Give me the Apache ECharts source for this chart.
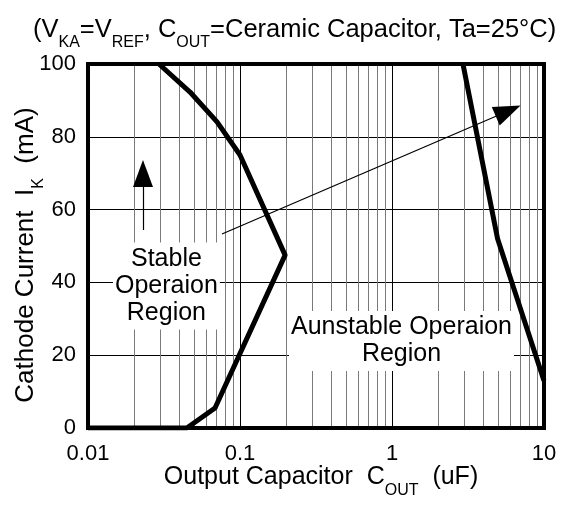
<!DOCTYPE html>
<html>
<head>
<meta charset="utf-8">
<script src="https://cdn.jsdelivr.net/npm/echarts@6/dist/echarts.min.js"></script>
<style>
html,body{margin:0;padding:0;background:#fff;}
#chart{width:563px;height:505px;}
</style>
</head>
<body>
<div id="chart"></div>
<script>
// ---- data ----
const stableBoundaryX = [0.01, 0.0447, 0.0685, 0.198, 0.1, 0.0706, 0.0469, 0.0293];
const stableBoundaryY = [0, 0, 5.5, 47.5, 75, 84.1, 92.3, 100];
const unstableBoundaryX = [2.93, 4.95, 10];
const unstableBoundaryY = [100, 52, 13];
const xTickLabels = ['0.01', '0.1', '1', '10'];
const yTickValues = [0, 20, 40, 60, 80, 100];
const minorGridX = [0.02, 0.03, 0.04, 0.05, 0.06, 0.07, 0.08, 0.09,
                    0.2, 0.3, 0.4, 0.5, 0.6, 0.7, 0.8, 0.9,
                    2, 3, 4, 5, 6, 7, 8, 9];
const regionLabels = ['Stable\nOperaion\nRegion', 'Aunstable Operaion\nRegion'];
const regionLabelX = [0.0328, 1.155];
const regionLabelY = [39.0, 23.9];
// arrows: [startX, startY, endX, endY]
const upArrow = [0.0230, 54.4, 0.0230, 69.9];
const diagArrow = [0.0761, 53.3, 5.81, 87.1];

const FONT = 'Liberation Sans';
const chart = echarts.init(document.getElementById('chart'));

const pair = (xs, ys) => xs.map((x, i) => [x, ys[i]]);

const makeRich = (main, sub) => ({
  m: {fontFamily: FONT, fontSize: main, lineHeight: main, color: '#000', fontWeight: 'normal'},
  s: {fontFamily: FONT, fontSize: sub, lineHeight: sub, color: '#000', fontWeight: 'normal', padding: [26, 0, 0, 0]}
});

const option = {
  animation: false,
  backgroundColor: '#fff',
  title: {
    text: '{m|(V}{s|KA}{m|=V}{s|REF}{m|, C}{s|OUT}{m|=Ceramic Capacitor, Ta=25°C)}',
    left: 28,
    top: 12,
    textStyle: {fontWeight: 'normal', rich: makeRich(25.5, 16)}
  },
  grid: {
    left: 88, right: 19, top: 64, bottom: 77,
    outerBoundsMode: 'none',
    containLabel: false,
    show: true, borderColor: '#000', borderWidth: 4, z: 10
  },
  xAxis: {
    type: 'log',
    logBase: 10,
    min: 0.01,
    max: 10,
    axisLine: {show: false},
    axisTick: {show: false},
    splitLine: {show: true, lineStyle: {color: '#000', width: 1}},
    axisLabel: {
      fontFamily: FONT, fontSize: 22, color: '#000', margin: 15,
      formatter: v => xTickLabels[Math.round(Math.log10(v)) + 2]
    },
    name: '{m|Output Capacitor  C}{s|OUT}{m|  (uF)}',
    nameLocation: 'middle',
    nameMoveOverlap: false,
    nameGap: 37,
    nameTextStyle: {padding: [0, 0, 0, 10], rich: makeRich(25, 16)}
  },
  yAxis: {
    type: 'value',
    min: 0,
    max: 100,
    interval: 20,
    axisLine: {show: false},
    axisTick: {show: false},
    splitLine: {show: true, lineStyle: {color: '#000', width: 1}},
    axisLabel: {
      fontFamily: FONT, fontSize: 22, color: '#000', margin: 12,
      formatter: v => (yTickValues.indexOf(v) >= 0 ? String(v) : '')
    },
    name: '{m|Cathode Current  I}{s|K}{m|  (mA)}',
    nameLocation: 'middle',
    nameMoveOverlap: false,
    nameGap: 49,
    nameTextStyle: {padding: [0, 18, 0, 0], rich: makeRich(26, 16)}
  },
  series: [
    {
      // minor vertical grid lines
      type: 'line',
      data: [],
      silent: true,
      markLine: {
        silent: true,
        z: 1,
        symbol: ['none', 'none'],
        label: {show: false},
        lineStyle: {color: '#7a7a7a', width: 1, type: 'solid'},
        data: minorGridX.map(x => ({xAxis: x}))
      }
    },
    {
      // region labels
      type: 'line',
      data: [],
      silent: true,
      markPoint: {
        silent: true,
        z: 3,
        symbol: 'rect',
        symbolSize: 0,
        label: {
          show: true,
          position: 'inside',
          fontFamily: FONT,
          fontSize: 25,
          lineHeight: 27,
          color: '#000',
          align: 'center',
          backgroundColor: '#fff',
          padding: [3, 2, 3, 2],
          formatter: p => p.name
        },
        data: regionLabels.map((t, i) => ({name: t, coord: [regionLabelX[i], regionLabelY[i]]}))
      }
    },
    {
      // annotation arrows
      type: 'line',
      data: [],
      silent: true,
      markLine: {
        silent: true,
        z: 4,
        symbol: ['none', 'triangle'],
        symbolSize: [20, 27],
        label: {show: false},
        lineStyle: {color: '#000', width: 1.2, type: 'solid'},
        itemStyle: {color: '#000'},
        data: [
          [{coord: [upArrow[0], upArrow[1]]}, {coord: [upArrow[2], upArrow[3]]}],
          [{coord: [diagArrow[0], diagArrow[1]]}, {coord: [diagArrow[2], diagArrow[3]]}]
        ]
      }
    },
    {
      name: 'Stable boundary',
      type: 'line',
      z: 5,
      data: pair(stableBoundaryX, stableBoundaryY),
      symbol: 'none',
      lineStyle: {color: '#000', width: 5, join: 'round'},
      clip: true
    },
    {
      name: 'Unstable boundary',
      type: 'line',
      z: 5,
      data: pair(unstableBoundaryX, unstableBoundaryY),
      symbol: 'none',
      lineStyle: {color: '#000', width: 5},
      clip: true
    }
  ]
};
chart.setOption(option);
</script>
</body>
</html>
